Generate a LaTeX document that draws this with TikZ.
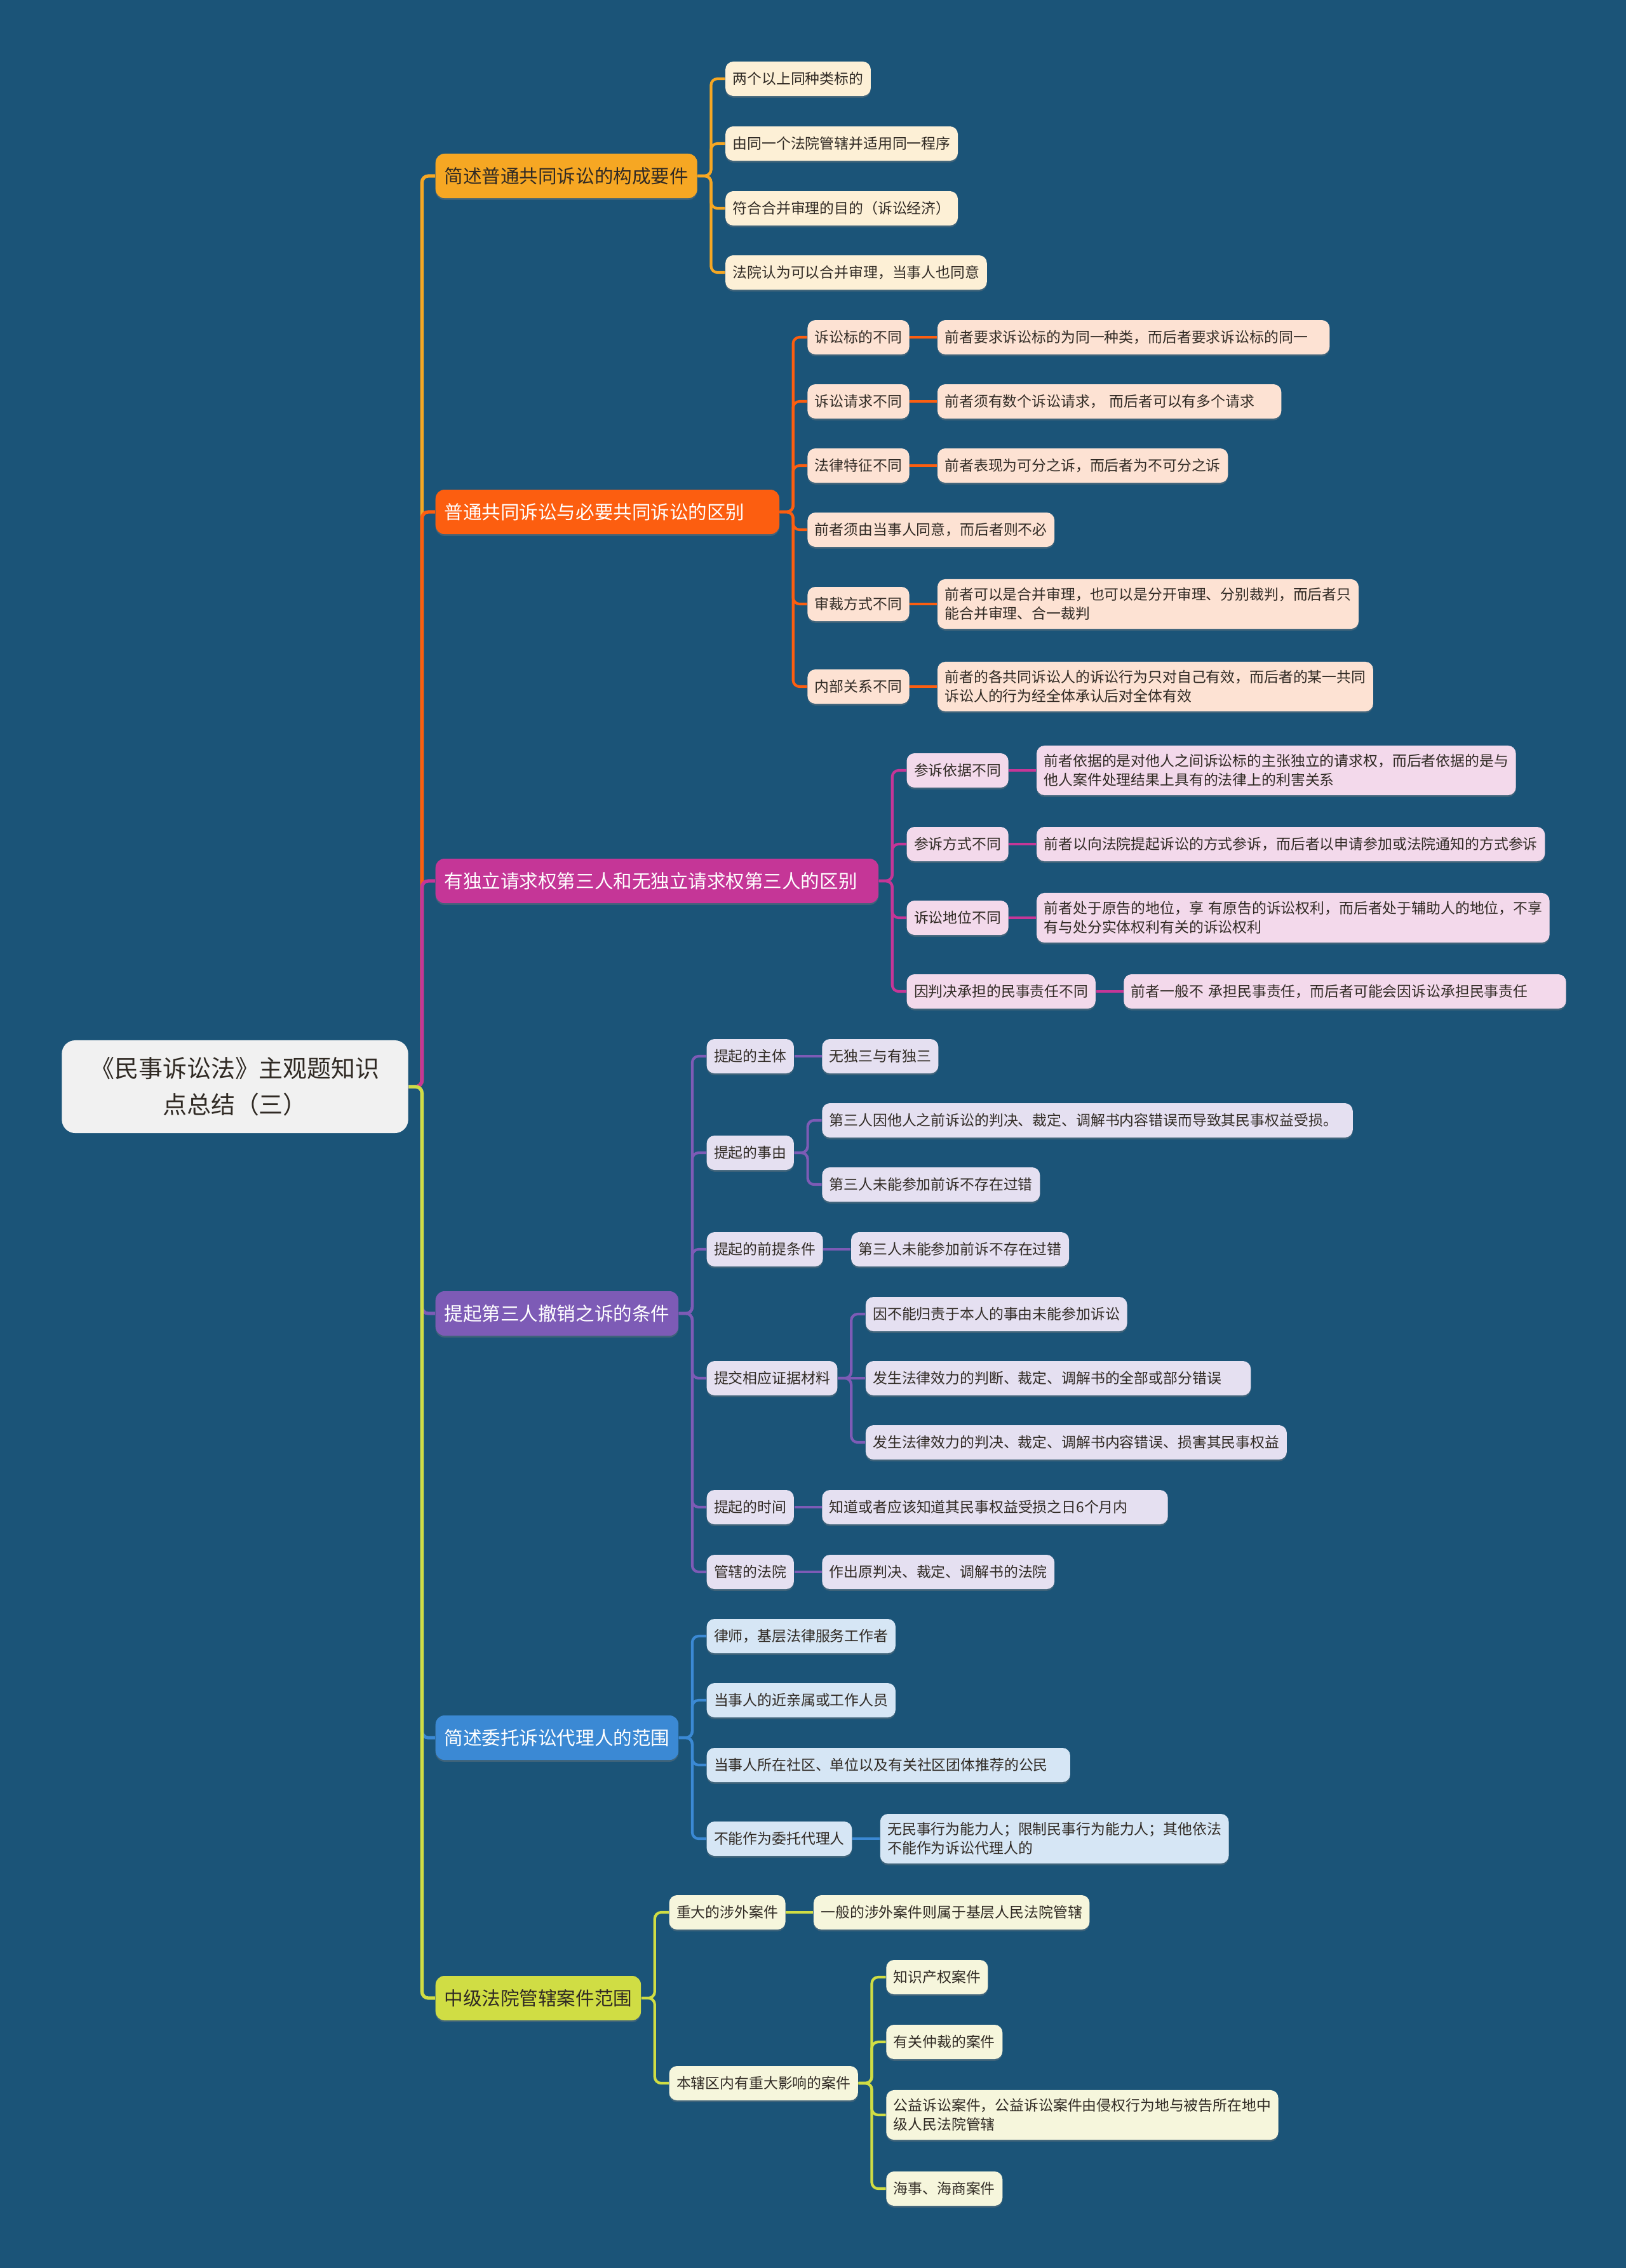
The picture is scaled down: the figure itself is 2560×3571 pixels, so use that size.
\documentclass[tikz,border=0pt]{standalone}
\usepackage{fontspec}
\setmainfont{Noto Sans CJK SC}
\usetikzlibrary{positioning,shadows}
\definecolor{sea}{RGB}{27,84,120}
\definecolor{ink}{RGB}{48,42,36}
\definecolor{paper}{RGB}{241,241,241}
\definecolor{amber}{RGB}{246,167,35}
\definecolor{amberlt}{RGB}{253,240,214}
\definecolor{flame}{RGB}{252,94,16}
\definecolor{flamelt}{RGB}{253,226,211}
\definecolor{berry}{RGB}{197,54,151}
\definecolor{berrylt}{RGB}{243,217,235}
\definecolor{grape}{RGB}{125,91,182}
\definecolor{grapelt}{RGB}{229,224,241}
\definecolor{sky}{RGB}{59,137,212}
\definecolor{skylt}{RGB}{214,230,245}
\definecolor{lime}{RGB}{208,221,68}
\definecolor{limelt}{RGB}{246,246,220}
\tikzset{
  hub/.style={fill=paper,text=ink,rounded corners=6pt,minimum width=5.45cm,
    minimum height=1.46cm,align=center,font=\fontsize{10.8}{16.2}\selectfont},
  topic/.style={fill=#1,text=white,anchor=west,rounded corners=4pt,inner xsep=0.14cm,
    minimum height=0.7cm,align=left,font=\fontsize{8.4}{10}\selectfont,
    drop shadow={shadow xshift=0pt,shadow yshift=-0.8pt,opacity=0.35}},
  item/.style={fill=#1,text=ink,anchor=west,rounded corners=3.5pt,inner xsep=0.115cm,
    inner ysep=0.135cm,minimum height=0.54cm,align=left,font=\fontsize{6.5}{8.5}\selectfont,
    drop shadow={shadow xshift=0pt,shadow yshift=-0.8pt,opacity=0.35}},
  link/.style={draw=#1,line width=1.2pt,rounded corners=0.1cm},
  trunk/.style={draw=#1,line width=1.5pt,rounded corners=0.1cm},
}
\begin{document}
\begin{tikzpicture}[x=0.01cm,y=-0.01cm]
  \fill[sea] (0,0) rectangle (2560,3571);
  \useasboundingbox (0,0) rectangle (2560,3571);
  \node[hub] (root) at (370,1711) {《民事诉讼法》主观题知识\\点总结（三）};
  % main topics
  \node[topic=amber,text=ink] (b1) at (685,277) {简述普通共同诉讼的构成要件};
  \node[topic=flame,text width=5.13cm] (b2) at (685,806) {普通共同诉讼与必要共同诉讼的区别};
  \node[topic=berry,text width=6.69cm] (b3) at (685,1387) {有独立请求权第三人和无独立请求权第三人的区别};
  \node[topic=grape] (b4) at (685,2068) {提起第三人撤销之诉的条件};
  \node[topic=sky] (b5) at (685,2736) {简述委托诉讼代理人的范围};
  \node[topic=lime,text=ink] (b6) at (685,3146) {中级法院管辖案件范围};
  \foreach \b/\c in {b1/amber,b2/flame,b3/berry,b4/grape,b5/sky,b6/lime}
    \draw[trunk=\c] (root.east) -- ++(21,0) |- (\b.west);

  % 构成要件
  \path (b1.east) ++(43,0) coordinate (b1x);
  \foreach \y/\txt [count=\i] in {124/两个以上同种类标的,226/由同一个法院管辖并适用同一程序,
      328/符合合并审理的目的（诉讼经济）,429/法院认为可以合并审理，当事人也同意}{
    \node[item=amberlt] (a\i) at (b1x |- 0,\y) {\txt};
    \draw[link=amber] (b1.east) -- ++(21,0) |- (a\i.west);
  }

  % 普通与必要共同诉讼
  \path (b2.east) ++(43,0) coordinate (b2x);
  \node[item=flamelt] (k1) at (b2x |- 0,531) {诉讼标的不同};
  \node[item=flamelt] (k2) at (b2x |- 0,632) {诉讼请求不同};
  \node[item=flamelt] (k3) at (b2x |- 0,733) {法律特征不同};
  \node[item=flamelt] (k4) at (b2x |- 0,834) {前者须由当事人同意，而后者则不必};
  \node[item=flamelt] (k5) at (b2x |- 0,951) {审裁方式不同};
  \node[item=flamelt] (k6) at (b2x |- 0,1081) {内部关系不同};
  \node[item=flamelt,text width=5.94cm,right=0.43cm of k1] (k1a) {前者要求诉讼标的为同一种类，而后者要求诉讼标的同一};
  \node[item=flamelt,text width=5.18cm,right=0.43cm of k2] (k2a) {前者须有数个诉讼请求，~而后者可以有多个请求};
  \node[item=flamelt,right=0.43cm of k3] (k3a) {前者表现为可分之诉，而后者为不可分之诉};
  \node[item=flamelt,right=0.43cm of k5] (k5a) {前者可以是合并审理，也可以是分开审理、分别裁判，而后者只\\能合并审理、合一裁判};
  \node[item=flamelt,right=0.43cm of k6] (k6a) {前者的各共同诉讼人的诉讼行为只对自己有效，而后者的某一共同\\诉讼人的行为经全体承认后对全体有效};
  \foreach \src in {k1,k2,k3,k4,k5,k6}
    \draw[link=flame] (b2.east) -- ++(21,0) |- (\src.west);
  \foreach \src/\dst in {k1/k1a,k2/k2a,k3/k3a,k5/k5a,k6/k6a}
    \draw[link=flame] (\src.east) -- (\dst.west);

  % 有独三与无独三
  \path (b3.east) ++(43,0) coordinate (b3x);
  \node[item=berrylt] (s1) at (b3x |- 0,1213) {参诉依据不同};
  \node[item=berrylt] (s2) at (b3x |- 0,1329) {参诉方式不同};
  \node[item=berrylt] (s3) at (b3x |- 0,1445) {诉讼地位不同};
  \node[item=berrylt] (s4) at (b3x |- 0,1561) {因判决承担的民事责任不同};
  \node[item=berrylt,right=0.43cm of s1] (s1a) {前者依据的是对他人之间诉讼标的主张独立的请求权，而后者依据的是与\\他人案件处理结果上具有的法律上的利害关系};
  \node[item=berrylt,right=0.43cm of s2] (s2a) {前者以向法院提起诉讼的方式参诉，而后者以申请参加或法院通知的方式参诉};
  \node[item=berrylt,text width=7.84cm,right=0.43cm of s3] (s3a) {前者处于原告的地位，享~有原告的诉讼权利，而后者处于辅助人的地位，不享\\有与处分实体权利有关的诉讼权利};
  \node[item=berrylt,text width=6.73cm,right=0.43cm of s4] (s4a) {前者一般不~承担民事责任，而后者可能会因诉讼承担民事责任};
  \foreach \src/\dst in {s1/s1a,s2/s2a,s3/s3a,s4/s4a}{
    \draw[link=berry] (b3.east) -- ++(21,0) |- (\src.west);
    \draw[link=berry] (\src.east) -- (\dst.west);
  }

  % 第三人撤销之诉
  \path (b4.east) ++(43,0) coordinate (b4x);
  \node[item=grapelt] (t1) at (b4x |- 0,1663) {提起的主体};
  \node[item=grapelt] (t2) at (b4x |- 0,1815) {提起的事由};
  \node[item=grapelt] (t3) at (b4x |- 0,1967) {提起的前提条件};
  \node[item=grapelt] (t4) at (b4x |- 0,2170) {提交相应证据材料};
  \node[item=grapelt] (t5) at (b4x |- 0,2373) {提起的时间};
  \node[item=grapelt] (t6) at (b4x |- 0,2475) {管辖的法院};
  \node[item=grapelt,right=0.43cm of t1] (t1a) {无独三与有独三};
  \path (t2.east) ++(43,0) coordinate (t2x);
  \node[item=grapelt,text width=8.12cm] (t2a) at (t2x |- 0,1764) {第三人因他人之前诉讼的判决、裁定、调解书内容错误而导致其民事权益受损。};
  \node[item=grapelt] (t2b) at (t2x |- 0,1865) {第三人未能参加前诉不存在过错};
  \node[item=grapelt,right=0.43cm of t3] (t3a) {第三人未能参加前诉不存在过错};
  \path (t4.east) ++(43,0) coordinate (t4x);
  \node[item=grapelt] (t4a) at (t4x |- 0,2069) {因不能归责于本人的事由未能参加诉讼};
  \node[item=grapelt,text width=5.83cm] (t4b) at (t4x |- 0,2170) {发生法律效力的判断、裁定、调解书的全部或部分错误};
  \node[item=grapelt] (t4c) at (t4x |- 0,2271) {发生法律效力的判决、裁定、调解书内容错误、损害其民事权益};
  \node[item=grapelt,text width=5.21cm,right=0.43cm of t5] (t5a) {知道或者应该知道其民事权益受损之日6个月内};
  \node[item=grapelt,right=0.43cm of t6] (t6a) {作出原判决、裁定、调解书的法院};
  \foreach \src in {t1,t2,t3,t4,t5,t6}
    \draw[link=grape] (b4.east) -- ++(21,0) |- (\src.west);
  \foreach \src/\dst in {t2/t2a,t2/t2b,t4/t4a,t4/t4c}
    \draw[link=grape] (\src.east) -- ++(21,0) |- (\dst.west);
  \foreach \src/\dst in {t1/t1a,t3/t3a,t4/t4b,t5/t5a,t6/t6a}
    \draw[link=grape] (\src.east) -- (\dst.west);

  % 委托诉讼代理人
  \path (b5.east) ++(43,0) coordinate (b5x);
  \node[item=skylt] (u1) at (b5x |- 0,2576) {律师，基层法律服务工作者};
  \node[item=skylt] (u2) at (b5x |- 0,2677) {当事人的近亲属或工作人员};
  \node[item=skylt,text width=5.49cm] (u3) at (b5x |- 0,2779) {当事人所在社区、单位以及有关社区团体推荐的公民};
  \node[item=skylt] (u4) at (b5x |- 0,2895) {不能作为委托代理人};
  \node[item=skylt,right=0.43cm of u4] (u4a) {无民事行为能力人；限制民事行为能力人；其他依法\\不能作为诉讼代理人的};
  \foreach \src in {u1,u2,u3,u4}
    \draw[link=sky] (b5.east) -- ++(21,0) |- (\src.west);
  \draw[link=sky] (u4.east) -- (u4a.west);

  % 中级法院管辖
  \path (b6.east) ++(43,0) coordinate (b6x);
  \node[item=limelt] (v1) at (b6x |- 0,3011) {重大的涉外案件};
  \node[item=limelt] (v2) at (b6x |- 0,3280) {本辖区内有重大影响的案件};
  \node[item=limelt,right=0.43cm of v1] (v1a) {一般的涉外案件则属于基层人民法院管辖};
  \path (v2.east) ++(43,0) coordinate (v2x);
  \node[item=limelt] (v2a) at (v2x |- 0,3113) {知识产权案件};
  \node[item=limelt] (v2b) at (v2x |- 0,3215) {有关仲裁的案件};
  \node[item=limelt] (v2c) at (v2x |- 0,3330) {公益诉讼案件，公益诉讼案件由侵权行为地与被告所在地中\\级人民法院管辖};
  \node[item=limelt] (v2d) at (v2x |- 0,3446) {海事、海商案件};
  \foreach \src in {v1,v2}
    \draw[link=lime] (b6.east) -- ++(21,0) |- (\src.west);
  \draw[link=lime] (v1.east) -- (v1a.west);
  \foreach \dst in {v2a,v2b,v2c,v2d}
    \draw[link=lime] (v2.east) -- ++(21,0) |- (\dst.west);
\end{tikzpicture}
\end{document}
